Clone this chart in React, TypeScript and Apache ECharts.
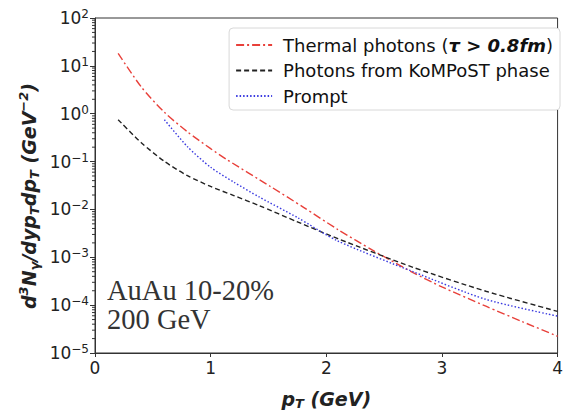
import React, { useEffect, useRef } from "react";
import * as echarts from "echarts";

const thermalPt = [0.2, 0.4, 0.6, 0.8, 1.0, 1.14, 1.51, 1.8, 2.1, 2.4, 2.75, 3.0, 3.38, 3.7, 4.0];
const thermalVal = [18.2, 3.63, 1.07, 0.417, 0.186, 0.11, 0.0309, 0.0112, 0.0038, 0.00141, 4.79e-4, 2.4e-4, 9.5e-5, 4.47e-5, 2.24e-5];

const kompostPt = [0.2, 0.4, 0.6, 0.8, 1.0, 1.2, 1.42, 1.75, 2.1, 2.75, 3.38, 4.0];
const kompostVal = [0.75, 0.248, 0.101, 0.0507, 0.0302, 0.0195, 0.012, 0.0055, 0.00245, 6.17e-4, 1.95e-4, 7.4e-5];

const promptPt = [0.6, 0.8, 1.0, 1.2, 1.42, 1.75, 2.1, 2.75, 3.38, 4.0];
const promptVal = [0.75, 0.204, 0.0759, 0.0372, 0.0182, 0.00676, 0.00219, 5.0e-4, 1.32e-4, 5.9e-5];

const seriesNames = ["Thermal photons (τ > 0.8fm)", "Photons from KoMPoST phase", "Prompt"];
const xTicks = [0, 1, 2, 3, 4];
const yDecades = [-5, -4, -3, -2, -1, 0, 1, 2];
const annotation = ["AuAu 10-20%", "200 GeV"];

const zip = (xs: number[], ys: number[]) => xs.map((x, i) => [x, ys[i]]);

export default function App() {
  const ref = useRef<HTMLDivElement>(null);
  useEffect(() => {
    document.body.style.margin = "0";
    if (!ref.current) return;
    const chart = echarts.init(ref.current, null, { renderer: "svg" });

    const minorTicks: number[][] = [];
    for (let i = 0; i < yDecades.length - 1; i++) {
      for (let k = 2; k <= 9; k++) minorTicks.push([0, k * Math.pow(10, yDecades[i])]);
    }

    const axisFont = "DejaVu Sans";
    const bi = { fontFamily: axisFont, fontWeight: "bold", fontStyle: "italic", fill: "#222", color: "#222" };
    chart.setOption({
      animation: false,
      grid: { left: 95, right: 4, top: 18, bottom: 62, show: true, borderColor: "#333", borderWidth: 1 },
      legend: {
        data: seriesNames,
        orient: "vertical",
        right: 6,
        top: 28,
        backgroundColor: "#fff",
        borderColor: "#d8d8d8",
        borderWidth: 1,
        borderRadius: 4,
        padding: [8, 7, 5, 6],
        itemGap: 7.5,
        itemWidth: 36,
        itemHeight: 18,
        itemStyle: { opacity: 0 },
        textStyle: {
          fontFamily: axisFont,
          fontSize: 18,
          lineHeight: 18,
          color: "#111",
          padding: [0, 0, 0, 6],
          rich: {
            m: { fontFamily: axisFont, fontSize: 18, lineHeight: 18, fontWeight: "bold", fontStyle: "italic", color: "#111" },
          },
        },
        formatter: (name: string) =>
          name.startsWith("Thermal") ? "Thermal photons ({m|τ > 0.8fm})" : name,
      },
      xAxis: {
        type: "value",
        min: xTicks[0],
        max: xTicks[xTicks.length - 1],
        interval: 1,
        axisLine: { lineStyle: { color: "#333" } },
        axisTick: { length: 4, lineStyle: { color: "#333" } },
        axisLabel: { fontFamily: axisFont, fontSize: 17, color: "#222", margin: 6 },
        splitLine: { show: false },
        name: "p{s|T} (GeV)",
        nameLocation: "middle",
        nameGap: 35,
        nameTextStyle: {
          ...bi,
          fontSize: 19,
          lineHeight: 22,
          rich: {
            s: { ...bi, fontSize: 13, verticalAlign: "bottom", lineHeight: 22 },
          },
        },
      },
      yAxis: {
        type: "log",
        logBase: 10,
        min: Math.pow(10, yDecades[0]),
        max: Math.pow(10, yDecades[yDecades.length - 1]),
        splitNumber: 7,
        axisLine: { lineStyle: { color: "#333" } },
        axisTick: { length: 5, lineStyle: { color: "#333" } },
        axisLabel: {
          fontFamily: axisFont,
          fontSize: 17,
          color: "#222",
          margin: 6,
          lineHeight: 20,
          formatter: (v: number) => {
            const e = Math.round(Math.log10(v));
            return "10{s|" + (e < 0 ? "−" + -e : String(e)) + "}";
          },
          rich: {
            s: { fontFamily: axisFont, fontSize: 12, color: "#222", verticalAlign: "top", lineHeight: 20 },
          },
        },
        splitLine: { show: false },
      },
      graphic: [
        {
          type: "text",
          left: 107,
          top: 276,
          style: { text: annotation[0], fontFamily: "Liberation Serif", fontSize: 28.5, lineHeight: 28, fill: "#333" },
        },
        {
          type: "text",
          left: 107,
          top: 305,
          style: { text: annotation[1], fontFamily: "Liberation Serif", fontSize: 28.5, lineHeight: 28, fill: "#333" },
        },
        {
          type: "text",
          x: 29,
          y: 196,
          rotation: Math.PI / 2,
          style: {
            text: "d{p|3}N{s|γ}/dyp{s|T}dp{s|T} (GeV{p|−2})",
            ...bi,
            fontSize: 19,
            lineHeight: 24,
            align: "center",
            verticalAlign: "middle",
            rich: {
              s: { ...bi, fontSize: 13, verticalAlign: "bottom", lineHeight: 24 },
              p: { ...bi, fontSize: 13, verticalAlign: "top", lineHeight: 24 },
            },
          },
        },
      ],
      series: [
        {
          name: seriesNames[0],
          type: "line",
          data: zip(thermalPt, thermalVal),
          smooth: 0.25,
          symbol: "none",
          lineStyle: { color: "#e8403a", width: 1.4, type: [8, 3, 2, 3] },
          itemStyle: { color: "#e8403a" },
        },
        {
          name: seriesNames[1],
          type: "line",
          data: zip(kompostPt, kompostVal),
          smooth: 0.25,
          symbol: "none",
          lineStyle: { color: "#222", width: 1.4, type: [5, 3] },
          itemStyle: { color: "#222" },
        },
        {
          name: seriesNames[2],
          type: "line",
          data: zip(promptPt, promptVal),
          smooth: 0.25,
          symbol: "none",
          lineStyle: { color: "#3a3ae0", width: 1.4, type: [1.5, 2] },
          itemStyle: { color: "#3a3ae0" },
        },
        {
          type: "custom",
          silent: true,
          data: minorTicks,
          renderItem: (params: any, api: any) => {
            const p = api.coord([api.value(0), api.value(1)]);
            return {
              type: "line",
              shape: { x1: p[0] - 3, y1: p[1], x2: p[0], y2: p[1] },
              style: { stroke: "#333", lineWidth: 1 },
            };
          },
          clip: false,
          z: 3,
        },
      ],
    });
    return () => chart.dispose();
  }, []);
  return <div ref={ref} style={{ width: 566, height: 415 }} />;
}
